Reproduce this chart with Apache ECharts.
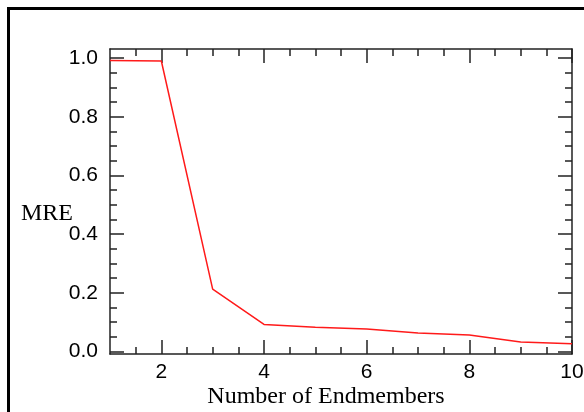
<!DOCTYPE html>
<html>
<head>
<meta charset="utf-8">
<script src="https://cdn.jsdelivr.net/npm/echarts@6/dist/echarts.min.js"></script>
<style>html,body{margin:0;padding:0;background:#fff;}#c{width:584px;height:412px;}</style>
</head>
<body>
<div id="c"></div>
<script>
// Data
var endmembers = [1, 2, 3, 4, 5, 6, 7, 8, 9, 10];
var mre = [0.992, 0.990, 0.212, 0.092, 0.082, 0.076, 0.063, 0.056, 0.032, 0.026];
var xTickLabels = [2, 4, 6, 8, 10];
var yTickLabels = [0, 0.2, 0.4, 0.6, 0.8, 1.0];
var xMinorTicks = [1.5, 2.5, 3, 3.5, 4.5, 5, 5.5, 6.5, 7, 7.5, 8.5, 9, 9.5];
var yMinorTicks = [0.05, 0.1, 0.15, 0.25, 0.3, 0.35, 0.45, 0.5, 0.55, 0.65, 0.7, 0.75, 0.85, 0.9, 0.95];

var X_MIN = 1, X_MAX = 10, Y_MIN = -0.009, Y_MAX = 1.031;
var lineCol = '#222';
var tickFont = {fontFamily: 'Liberation Sans', fontSize: 21, color: '#000'};

function xAx(pos, ticks, len, withLabels, withLine) {
  return {
    type: 'value', position: pos, min: X_MIN, max: X_MAX,
    splitLine: {show: false},
    axisLine: {show: withLine, onZero: false, lineStyle: {color: lineCol, width: 1.5}},
    axisTick: {show: true, inside: true, length: len, customValues: ticks, lineStyle: {color: lineCol, width: 1.5}},
    axisLabel: withLabels ? Object.assign({show: true, customValues: xTickLabels, margin: 8,
      formatter: function (v) { return String(v); }}, tickFont) : {show: false}
  };
}
function yAx(pos, ticks, len, withLabels, withLine) {
  return {
    type: 'value', position: pos, min: Y_MIN, max: Y_MAX,
    splitLine: {show: false},
    axisLine: {show: withLine, onZero: false, lineStyle: {color: lineCol, width: 1.5}},
    axisTick: {show: true, inside: true, length: len, customValues: ticks, lineStyle: {color: lineCol, width: 1.5}},
    axisLabel: withLabels ? Object.assign({show: true, customValues: yTickLabels, margin: 12,
      formatter: function (v) { return v.toFixed(1); }}, tickFont) : {show: false}
  };
}

var xa0 = xAx('bottom', xMinorTicks, 7, true, true);
xa0.name = 'Number of Endmembers';
xa0.nameLocation = 'middle';
xa0.nameGap = 31;
xa0.nameMoveOverlap = false;
xa0.nameTextStyle = {fontFamily: 'Liberation Serif', fontSize: 24, color: '#000', padding: [0, 30, 0, 0]};
var ya0 = yAx('left', yMinorTicks, 7, true, true);
ya0.name = 'MRE';
ya0.nameLocation = 'middle';
ya0.nameRotate = 0;
ya0.nameGap = 37;
ya0.nameMoveOverlap = false;
ya0.nameTextStyle = {fontFamily: 'Liberation Serif', fontSize: 24, color: '#000', align: 'right', verticalAlign: 'top'};

var chart = echarts.init(document.getElementById('c'), null, {renderer: 'canvas'});
chart.setOption({
  animation: false,
  backgroundColor: '#fff',
  grid: {left: 110, top: 49, right: 12, bottom: 58, containLabel: false, outerBoundsMode: 'none'},
  xAxis: [
    xa0,
    xAx('bottom', xTickLabels, 14, false, false),
    xAx('top', xMinorTicks, 7, false, true),
    xAx('top', xTickLabels, 14, false, false)
  ],
  yAxis: [
    ya0,
    yAx('left', yTickLabels, 14, false, false),
    yAx('right', yMinorTicks, 7, false, true),
    yAx('right', yTickLabels, 14, false, false)
  ],
  series: [{
    type: 'line', xAxisIndex: 0, yAxisIndex: 0,
    data: endmembers.map(function (x, i) { return [x, mre[i]]; }),
    symbol: 'none',
    lineStyle: {color: '#ff1a1a', width: 1.5}
  }],
  graphic: [{
    type: 'rect', silent: true,
    shape: {x: 8.5, y: 8.5, width: 700, height: 600},
    style: {fill: 'none', stroke: '#000', lineWidth: 3}
  }]
});
</script>
</body>
</html>
